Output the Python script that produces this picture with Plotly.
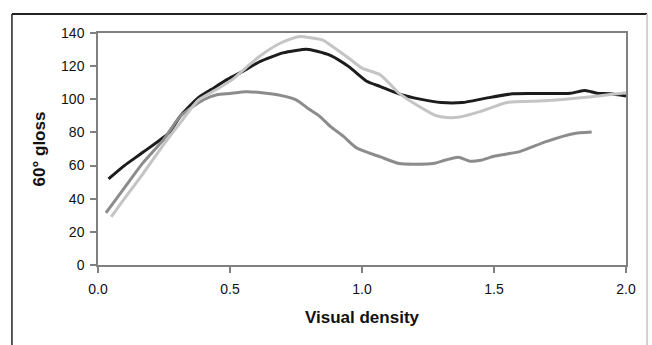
import plotly.graph_objects as go

# Series 1 (black)
x_black = [0.04, 0.10, 0.17, 0.27, 0.31, 0.38, 0.43, 0.49, 0.55, 0.61, 0.70, 0.75, 0.79, 0.83,
           0.88, 0.95, 1.02, 1.07, 1.14, 1.22, 1.30, 1.38, 1.47, 1.57, 1.65, 1.79, 1.845, 1.89, 1.94, 2.00]
y_black = [52, 60, 68, 80, 89.5, 101, 106, 112, 117, 122.5, 128, 129.5, 130.2, 129,
           126.5, 119.7, 110.7, 107.7, 103.3, 100.1, 98, 98, 100.7, 103.3, 103.5, 103.7, 105.3, 103.7, 103.3, 102]

# Series 2 (medium grey)
x_mid = [0.03, 0.10, 0.17, 0.25, 0.31, 0.40, 0.45, 0.50, 0.56, 0.62, 0.68, 0.75, 0.80, 0.84,
         0.88, 0.93, 0.98, 1.07, 1.14, 1.20, 1.27, 1.32, 1.365, 1.41, 1.45, 1.50, 1.55, 1.60, 1.70, 1.80, 1.87]
y_mid = [31.5, 46.5, 61.6, 76, 89.5, 99.7, 102.7, 103.5, 104.5, 104, 102.7, 99.7, 94, 89.7,
         83.6, 77.6, 70.6, 65.2, 61.2, 60.8, 61.2, 63.5, 65, 62.6, 63.2, 65.6, 67, 68.6, 74.6, 79.2, 80.2]

# Series 3 (light grey)
x_light = [0.05, 0.10, 0.17, 0.25, 0.31, 0.38, 0.45, 0.51, 0.56, 0.61, 0.69, 0.76, 0.81, 0.85,
           0.88, 0.95, 1.00, 1.07, 1.14, 1.22, 1.28, 1.32, 1.37, 1.45, 1.55, 1.69, 1.84, 2.00]
y_light = [29, 40, 55, 73, 85.5, 99.5, 106, 112, 119, 125.7, 133.8, 137.8, 137, 135.8,
           132.8, 124.8, 118.8, 114.7, 103.7, 95.3, 90.1, 89, 89.3, 92.7, 98.1, 99.1, 101.1, 104]

x_ticks = [0.0, 0.5, 1.0, 1.5, 2.0]
y_ticks = [0, 20, 40, 60, 80, 100, 120, 140]

FONT = "Liberation Sans, Arial, sans-serif"

fig = go.Figure()
for xs, ys, col in [(x_black, y_black, "#1c1c1c"),
                    (x_mid, y_mid, "#8c8c8c"),
                    (x_light, y_light, "#c4c4c4")]:
    fig.add_trace(go.Scatter(x=xs, y=ys, mode="lines",
                             line=dict(color=col, width=3, shape="spline", smoothing=0.6),
                             showlegend=False, hoverinfo="skip"))

axis_common = dict(showline=True, linecolor="#808080", linewidth=1.5, mirror=True,
                   ticks="outside", ticklen=6, tickcolor="#808080", tickwidth=1.5,
                   showgrid=False, zeroline=False,
                   tickfont=dict(family=FONT, size=14, color="#111"))

fig.update_xaxes(range=[0, 2], tickvals=x_ticks, ticktext=[f"{v:.1f}" for v in x_ticks],
                 ticklabelstandoff=4,
                 title=dict(text="<b>Visual density</b>", standoff=16,
                            font=dict(family=FONT, size=17, color="#111")),
                 **axis_common)
fig.update_yaxes(range=[0, 140], tickvals=y_ticks, ticklabelstandoff=3,
                 title=dict(text="<b>60° gloss</b>", standoff=11,
                            font=dict(family=FONT, size=17, color="#111")),
                 **axis_common)

# outer frame around the whole figure (paper coords: plot spans x 98..626, y 33..265 px)
fig.add_shape(type="line", xref="paper", yref="paper", x0=-0.163, x1=1.04, y0=1.082, y1=1.082,
              line=dict(color="#222", width=2), layer="above")
fig.add_shape(type="line", xref="paper", yref="paper", x0=-0.163, x1=-0.163, y0=1.082, y1=-0.4,
              line=dict(color="#222", width=1.5), layer="above")
fig.add_shape(type="line", xref="paper", yref="paper", x0=1.04, x1=1.04, y0=1.082, y1=-0.4,
              line=dict(color="#d0d0d0", width=2), layer="above")

fig.update_layout(width=652, height=345, margin=dict(l=98, r=26, t=33, b=80),
                  paper_bgcolor="white", plot_bgcolor="white")

fig.write_html("out.html", config={"displayModeBar": False},
               post_script="document.body.style.margin='0';document.body.style.overflow='hidden';")
